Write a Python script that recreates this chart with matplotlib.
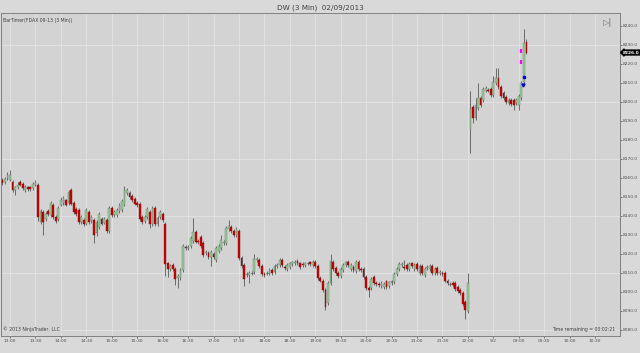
import matplotlib
matplotlib.use("Agg")
import matplotlib.pyplot as plt
import numpy as np

plt.rcParams['font.family'] = ['DejaVu Sans']

# FDAX 09-13, 3 min bars. Friday 12:51 -> 22:00, then Monday 08:03 -> 09:09
fri_open = [8159, 8158, 8160, 8159, 8158, 8153.5, 8155, 8158, 8157, 8153.5,
            8155, 8155, 8154.5, 8156.5, 8156.5, 8137, 8142, 8138.5, 8142.5, 8140.5,
            8146, 8139.5, 8138.5, 8146, 8147, 8148.5, 8147, 8153.5, 8147, 8143.5,
            8143, 8137, 8138, 8136, 8142, 8137.5, 8138, 8131, 8134, 8138.5,
            8136.5, 8138, 8132, 8144, 8140.5, 8140.5, 8142.5, 8143, 8146, 8152,
            8152, 8150.5, 8149, 8147, 8146.5, 8139.5, 8137.5, 8139.5, 8142, 8135.5,
            8144, 8135.5, 8139.5, 8141, 8136, 8115, 8112, 8114, 8112, 8107.5,
            8107.5, 8111.5, 8123.5, 8123, 8124, 8127, 8131.5, 8127, 8129, 8126,
            8120.5, 8120.5, 8118.5, 8120, 8117, 8121.5, 8123, 8125.5, 8125.5, 8133,
            8134, 8132, 8130, 8132, 8118, 8114, 8109, 8109, 8110, 8110.5,
            8117, 8117, 8113.5, 8109.5, 8110, 8110, 8111.5, 8110.5, 8113.5, 8114,
            8117, 8113, 8112, 8113, 8114.5, 8115, 8116.5, 8115, 8114.5, 8114,
            8115, 8115.5, 8114, 8116, 8113.5, 8107.5, 8106, 8101, 8094, 8104.5,
            8116, 8112.5, 8110, 8108.5, 8111.5, 8114, 8116, 8112, 8113, 8111,
            8116, 8112, 8112, 8108, 8102, 8102, 8108, 8104.5, 8104, 8103,
            8102.5, 8105.5, 8103, 8104.5, 8105, 8109.5, 8112, 8114, 8113, 8114,
            8112, 8115, 8112, 8114.5, 8110, 8113.5, 8109, 8112.5, 8112, 8113.5,
            8110, 8112.5, 8110, 8110, 8110, 8106, 8104, 8104.5, 8104.5, 8102.5,
            8101, 8099.5, 8094.5, 8090]
fri_high = [8160, 8160.5, 8163, 8164, 8159, 8156, 8158, 8159, 8158, 8156.5,
            8156, 8155.5, 8158, 8159, 8157.5, 8143.5, 8143, 8142, 8143.5, 8148,
            8147, 8140.5, 8145, 8150, 8150.5, 8149, 8153.5, 8154.5, 8148, 8144.5,
            8144, 8140.5, 8139, 8144, 8143, 8140.5, 8139, 8138, 8142, 8139.5,
            8139.5, 8139, 8145, 8145, 8143, 8144, 8147, 8149, 8156, 8154.5,
            8153, 8151.5, 8150, 8148, 8147.5, 8140.5, 8140.5, 8144.5, 8143, 8145,
            8145, 8140, 8143, 8142, 8137, 8116, 8114.5, 8115, 8113, 8109.5,
            8112.5, 8125, 8124.5, 8124.5, 8129.5, 8139, 8132.5, 8128, 8130, 8127,
            8122, 8121.5, 8122, 8121, 8124, 8125, 8130, 8127.5, 8134.5, 8138,
            8135, 8133, 8134, 8133, 8119, 8115, 8110.5, 8111, 8111, 8120,
            8118.5, 8118, 8114.5, 8110.5, 8111, 8112.5, 8112.5, 8114.5, 8115, 8118,
            8118, 8114, 8115, 8116, 8116.5, 8117, 8117.5, 8116, 8115.5, 8116,
            8116, 8116.5, 8117, 8117, 8114.5, 8108.5, 8107, 8102, 8105.5, 8120,
            8117, 8113.5, 8111, 8113, 8115, 8116.5, 8117, 8115, 8114, 8117,
            8117, 8113, 8113, 8109, 8103, 8108, 8109, 8105.5, 8105, 8105.5,
            8105, 8106.5, 8106, 8106.5, 8110.5, 8113, 8115.5, 8115.5, 8117, 8115,
            8115.5, 8116, 8115, 8115.5, 8114.5, 8114.5, 8113, 8114, 8114.5, 8114.5,
            8113, 8113.5, 8111.5, 8111, 8111, 8107, 8105, 8105.5, 8105.5, 8103.5,
            8102, 8100.5, 8095.5, 8110]
fri_low = [8156.5, 8157, 8159, 8158.5, 8152.5, 8151, 8154, 8155.5, 8153.5, 8152.5,
           8153, 8153, 8153.5, 8155.5, 8137.5, 8136, 8130, 8137.5, 8140, 8139.5,
           8138.5, 8136.5, 8137.5, 8145, 8146, 8145, 8146, 8145.5, 8141, 8140,
           8136, 8136, 8134.5, 8135, 8136, 8136.5, 8125.5, 8129.5, 8133, 8135,
           8135.5, 8131, 8131, 8139.5, 8139.5, 8139.5, 8141.5, 8142, 8145, 8151,
           8149, 8147.5, 8145.5, 8144.5, 8137.5, 8136, 8136.5, 8138.5, 8133.5, 8134.5,
           8134.5, 8134.5, 8138.5, 8137, 8108.5, 8108, 8111, 8111, 8103.5, 8102,
           8106.5, 8110.5, 8122, 8122, 8123, 8126, 8125.5, 8125, 8123, 8118.5,
           8119.5, 8117.5, 8113.5, 8117.5, 8116, 8120.5, 8122, 8124.5, 8124.5, 8132,
           8131, 8129, 8129, 8117, 8112.5, 8103, 8108, 8104.5, 8109, 8109.5,
           8116, 8112.5, 8108.5, 8108, 8109, 8109, 8109, 8109.5, 8112.5, 8113,
           8113, 8111.5, 8111, 8112, 8113.5, 8114, 8114, 8112, 8113, 8113,
           8114, 8113.5, 8113, 8112.5, 8106.5, 8105, 8100, 8090.5, 8093, 8103.5,
           8111, 8109, 8107.5, 8107.5, 8110.5, 8113, 8113, 8111, 8110.5, 8110,
           8111, 8110.5, 8107, 8101, 8097.5, 8101, 8103.5, 8103, 8102.5, 8102,
           8101.5, 8101.5, 8102, 8103.5, 8104, 8108.5, 8111, 8113, 8111.5, 8111,
           8111, 8112.5, 8111, 8111, 8109, 8109, 8108, 8111.5, 8111, 8109,
           8109, 8109, 8109, 8108.5, 8105, 8103.5, 8103, 8102.5, 8100.5, 8099.5,
           8098.5, 8092.5, 8086, 8089]
fri_close = [8157.5, 8159.5, 8161.5, 8161.5, 8153.5, 8155, 8156.5, 8156.5, 8154.5, 8155,
             8154, 8154, 8157, 8158, 8139.5, 8142.5, 8137, 8141, 8141, 8147,
             8139.5, 8137.5, 8144, 8148.5, 8149.5, 8146, 8152.5, 8146.5, 8142, 8141,
             8137, 8139.5, 8135.5, 8143, 8137, 8139.5, 8130, 8137, 8141, 8136,
             8138.5, 8132, 8144, 8140.5, 8142, 8143, 8146, 8148, 8153.5, 8153.5,
             8150, 8148.5, 8146.5, 8145.5, 8138.5, 8137, 8139.5, 8143.5, 8136, 8144,
             8135.5, 8139, 8142, 8138, 8114.5, 8112, 8113.5, 8112, 8107, 8108.5,
             8111.5, 8124, 8123, 8123.5, 8128.5, 8131.5, 8126.5, 8126.5, 8124, 8119.5,
             8121, 8118.5, 8121, 8118.5, 8123, 8124, 8127.5, 8126.5, 8133.5, 8134.5,
             8132, 8130, 8133, 8118, 8113.5, 8107, 8109.5, 8110, 8110, 8117.5,
             8117.5, 8113.5, 8109.5, 8109, 8110, 8111.5, 8110, 8113.5, 8114, 8117,
             8114, 8112.5, 8114, 8115, 8115.5, 8116, 8115, 8113, 8114, 8115,
             8115, 8114.5, 8116, 8113.5, 8107.5, 8106, 8101, 8092, 8104.5, 8116.5,
             8112, 8110, 8108.5, 8112, 8114, 8115.5, 8114, 8114, 8111.5, 8116,
             8112, 8111.5, 8108, 8102, 8101, 8107, 8104.5, 8104, 8103.5, 8104.5,
             8104, 8102.5, 8105, 8105.5, 8109.5, 8112, 8114.5, 8114.5, 8112.5, 8112,
             8114.5, 8113.5, 8114, 8112, 8113.5, 8110, 8112, 8113, 8113.5, 8110,
             8112, 8110, 8110.5, 8109.5, 8106, 8104.5, 8104, 8103.5, 8101.5, 8100.5,
             8099.5, 8093.5, 8090.5, 8104.5]

mon_open = [8185.5, 8197.5, 8191.5, 8197, 8202, 8201, 8206, 8206.5, 8207, 8203.5,
            8210, 8212.5, 8208, 8204.5, 8202.5, 8199.5, 8201, 8201, 8199.5, 8198.5,
            8202, 8210.5, 8231.5]
mon_high = [8206, 8198.5, 8202, 8210, 8203, 8208, 8208.5, 8207.5, 8208, 8213.5,
            8218, 8218, 8209, 8205.5, 8203.5, 8202, 8202, 8202, 8202, 8204,
            8211, 8238.5, 8233]
mon_low = [8173, 8189, 8190.5, 8196, 8197.5, 8200, 8205, 8205, 8202.5, 8202.5,
           8209, 8207, 8202, 8201, 8199, 8198.5, 8198, 8196, 8198.5, 8196,
           8201, 8209.5, 8225]
mon_close = [8196.5, 8191.5, 8198.5, 8202, 8198.5, 8207, 8207.5, 8206, 8203.5, 8210.5,
             8212.5, 8208, 8203, 8202, 8200, 8201, 8199, 8198.5, 8201, 8203,
             8210, 8231, 8226]

# strategy markers on the last bars
buy_marks = [8227, 8221]      # magenta
sell_marks = [8213, 8209]     # blue

tick_labels = ['13:00', '13:30', '14:00', '14:30', '15:00', '15:30', '16:00', '16:30',
               '17:00', '17:30', '18:00', '18:30', '19:00', '19:30', '20:00', '20:30',
               '21:00', '21:30', '22:00', '9/2', '09:00', '09:30', '10:00', '10:30']

opens = np.array(fri_open + mon_open)
highs = np.array(fri_high + mon_high)
lows = np.array(fri_low + mon_low)
closes = np.array(fri_close + mon_close)
idx = np.arange(len(opens))

fig = plt.figure(figsize=(6.4, 3.53), dpi=100)
fig.patch.set_facecolor('#d9d9d9')
ax = fig.add_axes([1 / 640, 17 / 353, 619 / 640, 323 / 353])
ax.set_facecolor('#d3d3d3')

# grid
xt = [3 + 10 * k for k in range(19)] + [193, 203, 213, 223, 233]
for x in xt:
    ax.axvline(x, color='#e3e3e3', lw=0.6, zorder=0)
for y in range(8080, 8240, 30):
    ax.axhline(y, color='#e3e3e3', lw=0.6, zorder=0)

up = closes > opens
dn = closes < opens
flat = closes == opens

ax.vlines(idx, lows, highs, color='#5a5a5a', lw=0.6, zorder=2)
ax.bar(idx[up], (closes - opens)[up], bottom=opens[up], width=0.7,
       color='#95d395', edgecolor='#6e6e6e', linewidth=0.3, zorder=3)
ax.bar(idx[dn], (opens - closes)[dn], bottom=closes[dn], width=0.7,
       color='#d10000', edgecolor='#7a1010', linewidth=0.3, zorder=3)
ax.hlines(opens[flat], idx[flat] - 0.4, idx[flat] + 0.4, color='#5a5a5a', lw=0.7, zorder=3)

last = len(opens) - 1
ax.plot([last - 2, last - 2.3], buy_marks, ls='none', marker='|', ms=3, mew=1.6,
        color='#ff00ff', zorder=4)
ax.plot([last - 1], [sell_marks[0]], ls='none', marker='o', ms=1.6, color='#0000e0', zorder=4)
ax.plot([last - 1.2], [sell_marks[1]], ls='none', marker='v', ms=2.2, color='#0000e0', zorder=4)

ax.set_xlim(-0.55, 242.8)
ax.set_ylim(8076.8, 8246.8)

ax.set_xticks(xt)
ax.set_xticklabels(tick_labels)
ax.yaxis.tick_right()
ax.set_yticks(np.arange(8080, 8241, 10))
ax.set_yticklabels(['%.1f' % v for v in np.arange(8080, 8241, 10)])
ax.tick_params(axis='both', labelsize=3.2, colors='#505050', length=1.5, width=0.5, pad=0.8)
for s in ax.spines.values():
    s.set_color('#808080')
    s.set_linewidth(0.7)

# current price tag
ax.annotate('%.1f' % closes[-1], xy=(1.0, closes[-1]), xycoords=('axes fraction', 'data'),
            xytext=(2.2, 0), textcoords='offset points', fontsize=3.2, color='white',
            va='center', ha='left', fontweight='bold',
            bbox=dict(boxstyle='larrow,pad=0.1', fc='black', ec='black'))

fig.text(0.5, 1 - 8 / 353, 'DW (3 Min)  02/09/2013', ha='center', va='center',
         fontsize=5.2, color='#404040')
ax.text(0.003, 0.985, 'BarTimer(FDAX 09-13 (3 Min))', transform=ax.transAxes,
        fontsize=3.3, color='#404040', va='top', ha='left')
ax.text(0.003, 0.012, '\u00a9 2013 NinjaTrader, LLC', transform=ax.transAxes,
        fontsize=3.3, color='#404040', va='bottom', ha='left')
ax.text(0.992, 0.012, 'Time remaining = 00:02:21', transform=ax.transAxes,
        fontsize=3.3, color='#404040', va='bottom', ha='right')
ax.text(0.988, 0.985, '\u25b7|', transform=ax.transAxes, fontsize=6,
        color='#707070', va='top', ha='right')

fig.savefig('out.png', dpi=100, facecolor=fig.get_facecolor())
